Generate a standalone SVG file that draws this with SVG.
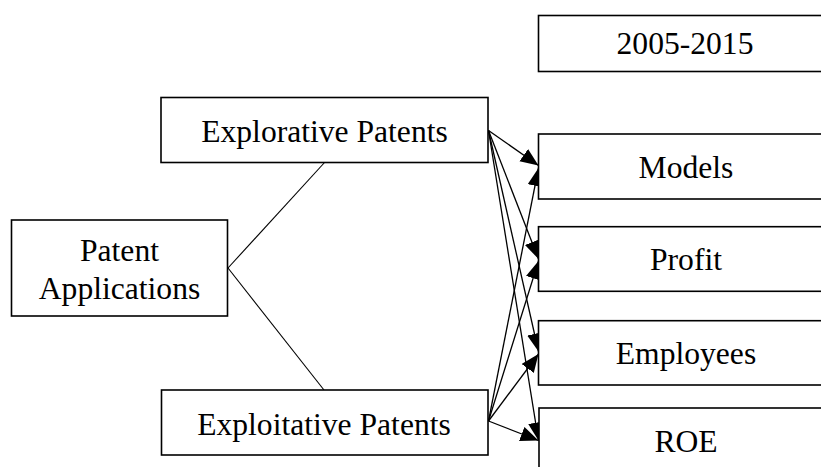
<svg xmlns="http://www.w3.org/2000/svg" width="821" height="467" viewBox="0 0 821 467">
  <style>
    .box { fill: #ffffff; stroke: #000000; stroke-width: 1.6; }
    .lbl { font-family: "Liberation Serif", "Times New Roman", serif; font-size: 31.6px; fill: #000000; text-anchor: middle; }
    .link { fill: none; stroke: #000000; stroke-width: 1.1; }
    .arrow { fill: none; stroke: #000000; stroke-width: 1.3; marker-end: url(#head); }
  </style>
  <defs>
    <marker id="head" markerUnits="userSpaceOnUse" markerWidth="19" markerHeight="16" refX="18" refY="7.5" orient="auto">
      <path d="M0,0 L18,7.5 L0,15 z" fill="#000000"/>
    </marker>
  </defs>
  <rect width="821" height="467" fill="#ffffff"/>

  <!-- connectors -->
  <g id="connectors">
    <line class="link" x1="228" y1="268" x2="325" y2="162"/>
    <line class="link" x1="228" y1="268" x2="324" y2="390"/>
    <!-- from Explorative Patents -->
    <line class="arrow" x1="488.5" y1="130.5" x2="538.5" y2="165.5"/>
    <line class="arrow" x1="488.5" y1="130.5" x2="538.5" y2="259"/>
    <line class="arrow" x1="488.5" y1="130.5" x2="538.5" y2="351.5"/>
    <line class="arrow" x1="488.5" y1="130.5" x2="538.5" y2="440.5"/>
    <!-- from Exploitative Patents -->
    <line class="arrow" x1="488.5" y1="421" x2="538.5" y2="168"/>
    <line class="arrow" x1="488.5" y1="421" x2="538.5" y2="261"/>
    <line class="arrow" x1="488.5" y1="421" x2="538.5" y2="354"/>
    <line class="arrow" x1="488.5" y1="421" x2="538.5" y2="440.5"/>
  </g>

  <g id="period">
    <rect class="box" x="538.5" y="15.5" width="300" height="56"/>
    <text class="lbl" x="685" y="54">2005-2015</text>
  </g>

  <g id="explorative">
    <rect class="box" x="161" y="97.5" width="327" height="65"/>
    <text class="lbl" x="324.5" y="141.5">Explorative Patents</text>
  </g>

  <g id="patent-applications">
    <rect class="box" x="11.5" y="220" width="216" height="96"/>
    <text class="lbl" x="119.5" y="260.5">Patent</text>
    <text class="lbl" x="119.5" y="298.5">Applications</text>
  </g>

  <g id="exploitative">
    <rect class="box" x="161.5" y="390" width="326.5" height="65"/>
    <text class="lbl" x="324" y="435">Exploitative Patents</text>
  </g>

  <g id="models">
    <rect class="box" x="538.5" y="134" width="300" height="65"/>
    <text class="lbl" x="686" y="178">Models</text>
  </g>

  <g id="profit">
    <rect class="box" x="538.5" y="226.7" width="300" height="64.6"/>
    <text class="lbl" x="686" y="270">Profit</text>
  </g>

  <g id="employees">
    <rect class="box" x="538.5" y="320.7" width="300" height="64.3"/>
    <text class="lbl" x="686" y="363.5">Employees</text>
  </g>

  <g id="roe">
    <rect class="box" x="539" y="408" width="300" height="65"/>
    <text class="lbl" x="686" y="452">ROE</text>
  </g>
</svg>
